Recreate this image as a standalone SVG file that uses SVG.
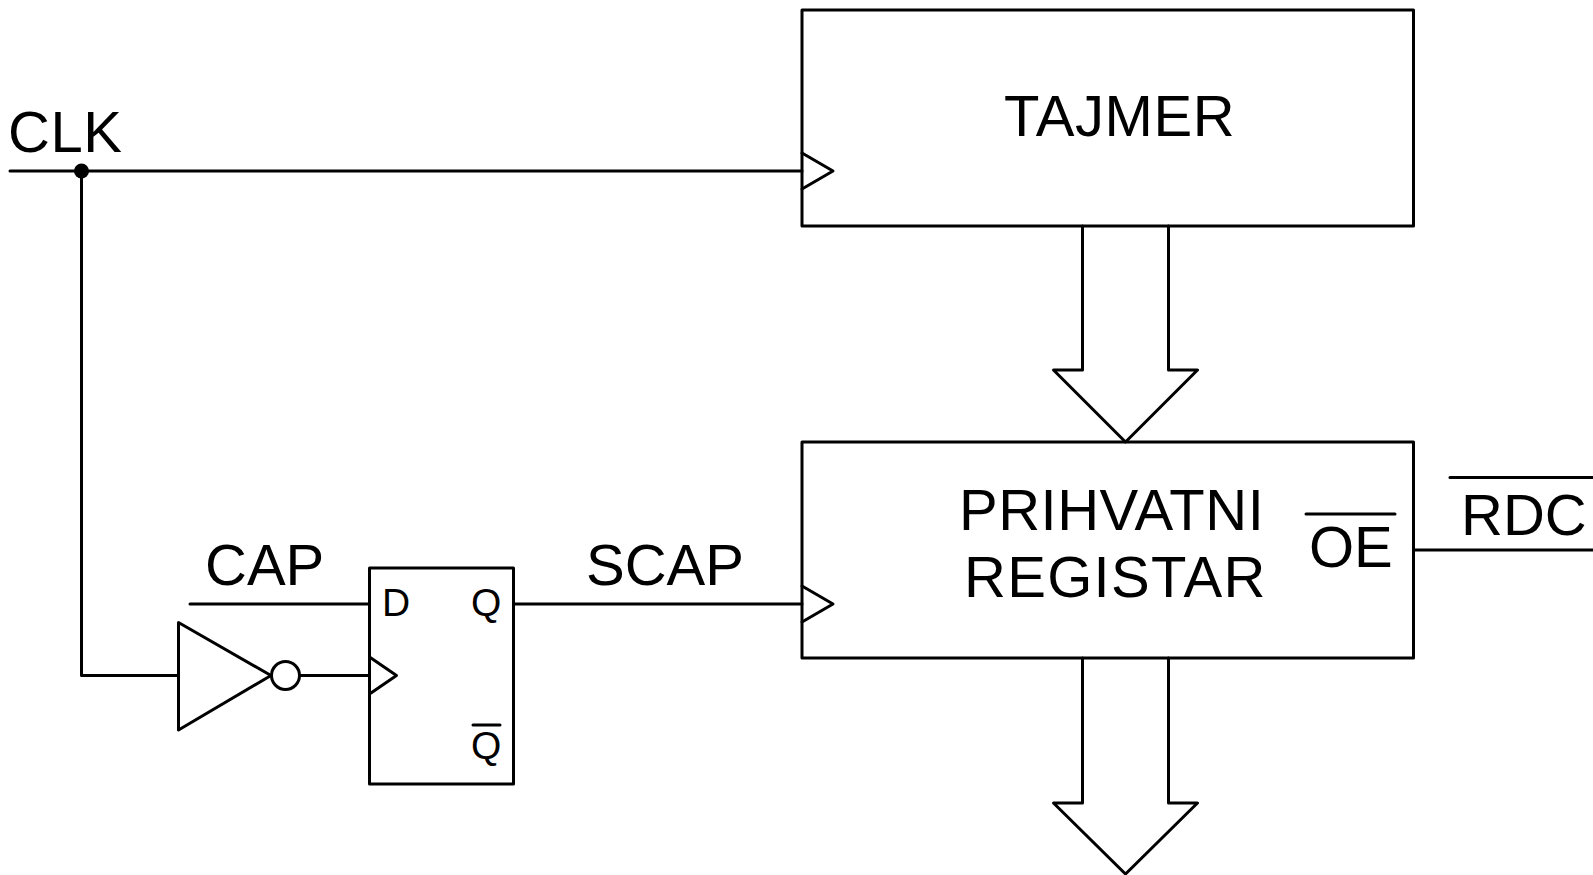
<svg xmlns="http://www.w3.org/2000/svg" width="1593" height="875" viewBox="0 0 1593 875">
<style>
.l{fill:none;stroke:#000;stroke-width:3;stroke-linejoin:round;stroke-linecap:round}
text{font-family:"Liberation Sans",Arial,sans-serif;fill:#000}
.b{font-size:58px}
.s{font-size:39px}
</style>
<rect width="1593" height="875" fill="#fff"/>
<g id="connectors">
<path class="l" d="M10 171H802"/>
<path class="l" d="M81.500 171V675.500H178.500"/>
<circle cx="81.500" cy="171" r="7.500" fill="#000"/>
<path class="l" d="M190 604H369"/>
<path class="l" d="M300 675.500H369"/>
<path class="l" d="M513.500 604H802"/>
<path class="l" d="M1413.500 550H1593"/>
<path class="l" d="M1082.500 226V370H1053.500L1125.500 442L1197.500 370H1168.500V226"/>
<path class="l" d="M1082.500 658V803H1053.500L1125.500 874L1197.500 803H1168.500V658"/>
</g>
<g id="timer"><rect class="l" x="802" y="10" width="611.500" height="216"/><path class="l" d="M802 153L833 171L802 189"/><text class="b" x="1004" y="136" letter-spacing="0.600">TAJMER</text></g>
<g id="register"><rect class="l" x="802" y="442" width="611.500" height="216"/><path class="l" d="M802 586L833 604L802 622"/><text class="b" x="959" y="530" letter-spacing="0.500">PRIHVATNI</text><text class="b" x="964" y="597" letter-spacing="1.300">REGISTAR</text><text class="b" x="1309" y="567">OE</text><path class="l" d="M1306 514H1395"/></g>
<g id="flipflop"><rect class="l" x="369.500" y="568" width="144" height="216"/><path class="l" d="M369.500 657L396.500 675.500L369.500 694"/><text class="s" x="382" y="616">D</text><text class="s" x="471" y="616">Q</text><text class="s" x="471" y="759">Q</text><path class="l" d="M473 725H500"/></g>
<g id="inverter"><path class="l" d="M178.500 622.500L271 675.500L178.500 730Z"/><circle class="l" cx="285.500" cy="675.500" r="14"/></g>
<g id="clk"><text class="b" x="8" y="152" letter-spacing="0.500">CLK</text></g>
<g id="cap"><text class="b" x="205" y="585">CAP</text></g>
<g id="scap"><text class="b" x="586" y="585">SCAP</text></g>
<g id="rdc"><text class="b" x="1461" y="535">RDC</text><path class="l" d="M1450 477.500H1593"/></g>
</svg>
